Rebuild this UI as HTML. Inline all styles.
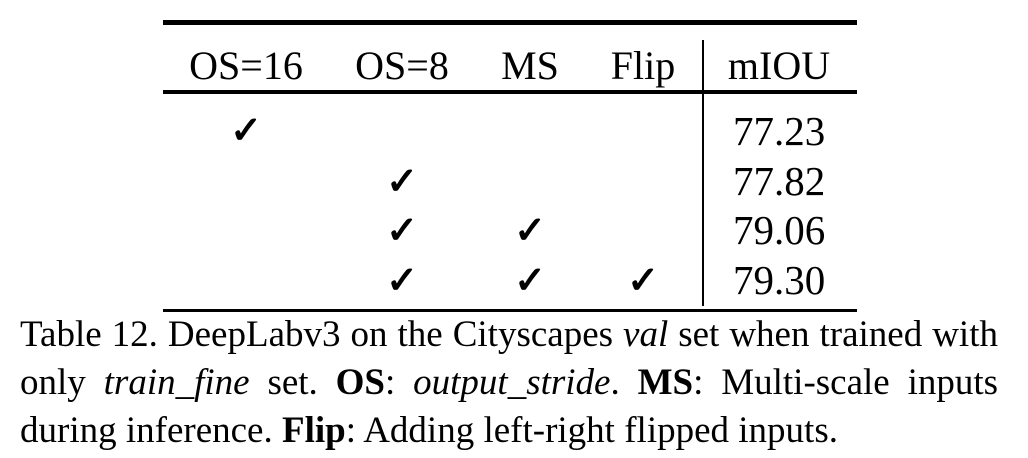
<!DOCTYPE html>
<html><head><meta charset="utf-8"><style>
body{margin:0;width:1028px;height:458px;background:#fff;position:relative;overflow:hidden;font-family:"Liberation Serif",serif;color:#000}
.a{position:absolute}
.rule{position:absolute;left:163px;width:694px;background:#000}
.h{position:absolute;top:44px;font-size:40px;line-height:44px;transform:translateX(-50%);white-space:nowrap}
.v{position:absolute;left:733px;font-size:41px;line-height:44px}
.c{position:absolute;font-size:38px;line-height:40px;transform:translateX(-50%);font-family:"DejaVu Serif",serif;font-weight:bold}
.cap{position:absolute;left:20px;width:978px;font-size:37px;line-height:42px;white-space:nowrap}
.j{text-align:justify;text-align-last:justify;white-space:normal}
</style></head><body>
<div class="rule" style="top:20px;height:5px"></div>
<div class="rule" style="top:90px;height:4px"></div>
<div class="rule" style="top:309px;height:3px"></div>
<div class="a" style="left:702px;top:40px;width:2px;height:266px;background:#000"></div>
<div class="h" style="left:246px">OS=16</div>
<div class="h" style="left:402px">OS=8</div>
<div class="h" style="left:530px">MS</div>
<div class="h" style="left:643px">Flip</div>
<div class="h" style="left:779px">mIOU</div>
<div class="c" style="left:246px;top:110px">✓</div>
<div class="c" style="left:402px;top:161px">✓</div>
<div class="c" style="left:402px;top:210px">✓</div>
<div class="c" style="left:530px;top:210px">✓</div>
<div class="c" style="left:402px;top:260px">✓</div>
<div class="c" style="left:530px;top:260px">✓</div>
<div class="c" style="left:643px;top:260px">✓</div>
<div class="v" style="top:109px">77.23</div>
<div class="v" style="top:159px">77.82</div>
<div class="v" style="top:208px">79.06</div>
<div class="v" style="top:258px">79.30</div>
<div class="cap j" style="top:314px">Table 12. DeepLabv3 on the Cityscapes <i>val</i> set when trained with</div>
<div class="cap j" style="top:362px">only <i>train_fine</i> set. <b>OS</b>: <i>output_stride</i>. <b>MS</b>: Multi-scale inputs</div>
<div class="cap" style="top:410px">during inference. <b>Flip</b>: Adding left-right flipped inputs.</div>
</body></html>
